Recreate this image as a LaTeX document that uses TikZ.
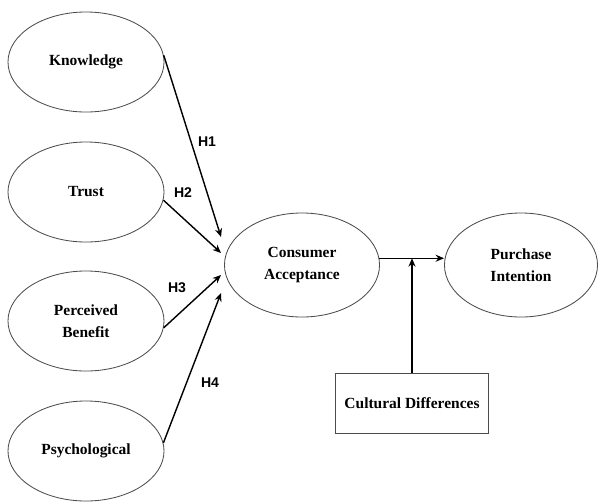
\documentclass[tikz,border=0pt]{standalone}
\usepackage{fontspec}
\setmainfont{Liberation Serif}
\newfontfamily\labelfont{Liberation Sans}
\usetikzlibrary{
	arrows.meta,
	positioning,
	shapes.geometric,
	calc
}
\tikzset{
  % arrow
	cstra/.style      ={-{Stealth[length=6pt,width=5pt]}, line width=1pt}, % right arrow
  % node
	cstellipse/.style ={ellipse,draw=black!70,line width=0.6pt,minimum width=3.9cm,minimum height=2.5cm,
		inner sep=0pt,align=center,font=\bfseries\fontsize{11}{16}\selectfont},
	cstbox/.style     ={rectangle,draw=black!70,line width=0.6pt,minimum width=3.825cm,minimum height=1.5cm,
		font=\bfseries\fontsize{11}{16}\selectfont},
	cstlabel/.style   ={font=\labelfont\bfseries\fontsize{10}{12}\selectfont,inner sep=1pt}
}

\begin{document}
\begin{tikzpicture}[x=0.025cm,y=-0.025cm]
	\useasboundingbox (0,0) rectangle (598,502);
	% constructs
	\node[cstellipse] (Kn) at (86,62) {Knowledge};
	\node[cstellipse] (Tr) at (86,192) {Trust};
	\node[cstellipse] (PB) at (86,321) {Perceived\\Benefit};
	\node[cstellipse] (Ps) at (86,451) {Psychological};
	\node[cstellipse,minimum width=3.875cm,minimum height=2.6cm] (CA) at (302,265) {Consumer\\Acceptance};
	\node[cstellipse,minimum width=3.825cm,minimum height=2.6cm] (PI) at (521,265) {Purchase\\Intention};
	\node[cstbox] (CD) at (412,403) {Cultural Differences};
	% arrow ends
	\coordinate (e1) at ($(CA.west)+(-3,-28)$);
	\coordinate (e2) at ($(CA.west)+(-3,-12)$);
	\coordinate (e3) at ($(CA.west)+(-3,10)$);
	\coordinate (e4) at ($(CA.west)+(-3,28)$);
	\coordinate (join) at (CD.north |- CA.5);
	% paths
	\draw[cstra] (Kn.5) -- (e1);
	\draw[cstra] (Tr.-6) -- (e2);
	\draw[cstra] (PB.-5) -- (e3);
	\draw[cstra] (Ps.6) -- (e4);
	\draw[cstra] (CA.5) -- (CA.5 -| PI.west);
	\draw[cstra] (CD.north) -- (join);
	% hypotheses
	\node[cstlabel] (H1) at (207,142) {H1};
	\node[cstlabel] (H2) at (183,193) {H2};
	\node[cstlabel] (H3) at (177,288) {H3};
	\node[cstlabel] (H4) at (210,383) {H4};
\end{tikzpicture}
\end{document}
